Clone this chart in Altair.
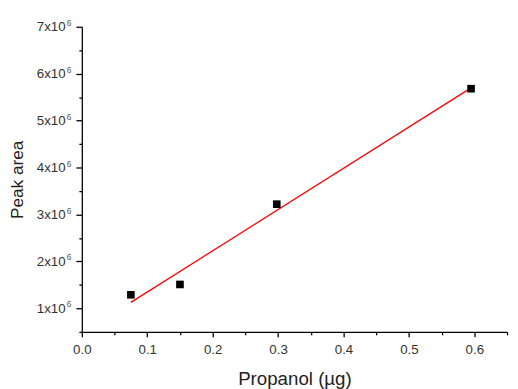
import altair as alt
import pandas as pd

propanol = [0.075, 0.15, 0.298, 0.595]
peak_area = [1.29e6, 1.51e6, 3.22e6, 5.68e6]

x_major = [0.0, 0.1, 0.2, 0.3, 0.4, 0.5, 0.6]
x_minor = [0.05, 0.15, 0.25, 0.35, 0.45, 0.55, 0.65]
y_major = [1e6, 2e6, 3e6, 4e6, 5e6, 6e6, 7e6]
y_minor = [0.5e6, 1.5e6, 2.5e6, 3.5e6, 4.5e6, 5.5e6, 6.5e6]

df = pd.DataFrame({"x": propanol, "y": peak_area})

FONT = "Liberation Sans"
LABEL_COLOR = "#333333"
xs = alt.Scale(domain=[0, 0.65], nice=False, zero=False)
ys = alt.Scale(domain=[0.5e6, 7e6], nice=False, zero=False)

x_axis = alt.Axis(values=x_major, format=".1f", orient="bottom", title="Propanol (µg)",
                  tickSize=5, tickColor="black", tickWidth=1.3,
                  domainColor="black", domainWidth=1.3, grid=False,
                  labelFont=FONT, labelFontSize=13.5, labelColor=LABEL_COLOR, labelPadding=6,
                  titleFont=FONT, titleFontSize=19, titleFontWeight="normal",
                  titleColor="#222222", titlePadding=14, labelFlush=False)
y_axis = alt.Axis(values=y_major, orient="left", title="Peak area",
                  labelExpr="format(datum.value/1e6,'d') + 'x10'",
                  tickSize=6, tickColor="black", tickWidth=1.3,
                  domainColor="black", domainWidth=1.3, grid=False,
                  labelFont=FONT, labelFontSize=13.5, labelColor=LABEL_COLOR, labelPadding=11,
                  titleFont=FONT, titleFontSize=17.5, titleFontWeight="normal",
                  titleColor="#222222", titlePadding=10, labelFlush=False)
y_sup_axis = alt.Axis(values=y_major, orient="left", title=None,
                      labelExpr="'6'", tickSize=6, tickOpacity=0, domain=False, grid=False,
                      labelFont=FONT, labelFontSize=8.5, labelColor="#555555",
                      labelPadding=5, labelOffset=-4.5, labelFlush=False)

x_minor_axis = alt.Axis(values=x_minor, orient="bottom", labels=False, title=None,
                        tickSize=3, tickColor="black", tickWidth=1.3, domain=False, grid=False)
y_minor_axis = alt.Axis(values=y_minor, orient="left", labels=False, title=None,
                        tickSize=3, tickColor="black", tickWidth=1.3, domain=False, grid=False)

minor = alt.Chart(df).mark_point(opacity=0).encode(
    x=alt.X("x:Q", scale=xs, axis=x_minor_axis),
    y=alt.Y("y:Q", scale=ys, axis=y_minor_axis),
)

sup = alt.Chart(df).mark_point(opacity=0).encode(
    x=alt.X("x:Q", scale=xs, axis=None),
    y=alt.Y("y:Q", scale=ys, axis=y_sup_axis),
)

line = alt.Chart(df).transform_regression("x", "y").mark_line(
    color="#ff0000", strokeWidth=1.3
).encode(
    x=alt.X("x:Q", scale=xs, axis=None),
    y=alt.Y("y:Q", scale=ys, axis=None),
)

points = alt.Chart(df).mark_square(size=60, color="black", opacity=1).encode(
    x=alt.X("x:Q", scale=xs, axis=x_axis),
    y=alt.Y("y:Q", scale=ys, axis=y_axis),
)

chart = alt.layer(minor, sup, line, points).resolve_axis(
    x="independent", y="independent"
).properties(
    width=432, height=310,
    padding={"left": 75, "top": 16, "right": 3, "bottom": 55},
    autosize=alt.AutoSizeParams(type="none"),
    background="white",
).configure_view(stroke=None)

chart.save("out.html", embed_options={"renderer": "svg", "actions": False})
